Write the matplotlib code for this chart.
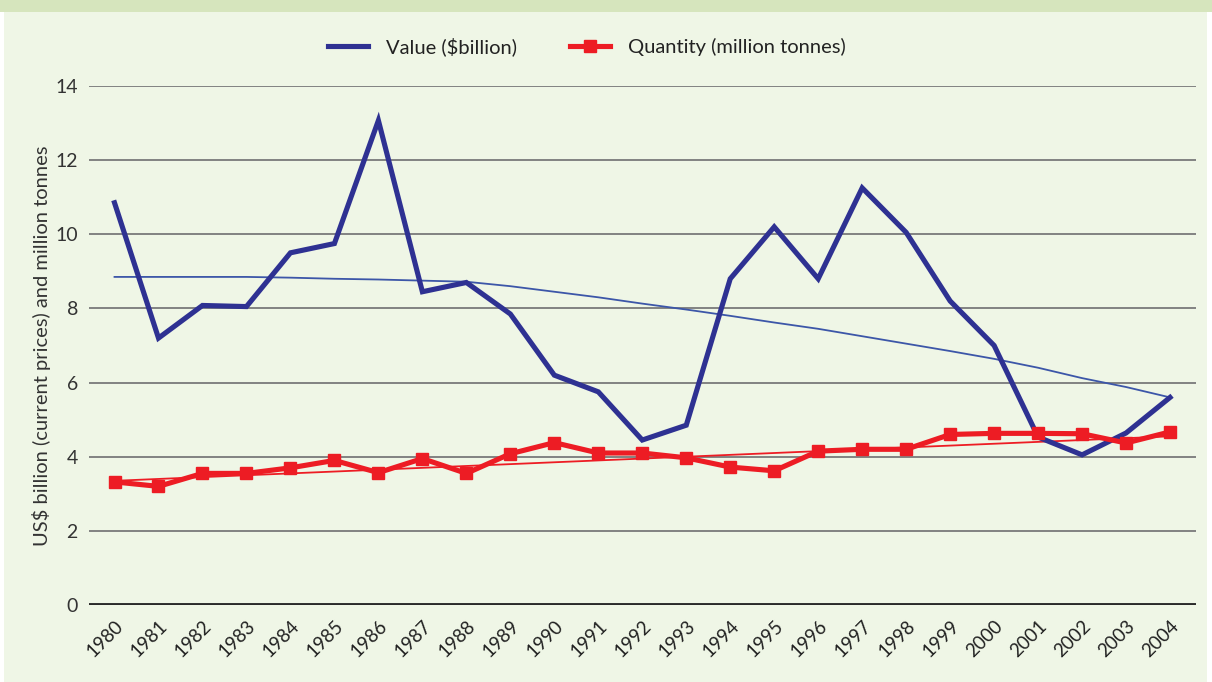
import matplotlib
matplotlib.use('Agg')
import matplotlib.pyplot as plt
from matplotlib.patches import Rectangle

plt.rcParams['font.family'] = ['Lato', 'DejaVu Sans']

# data
years = list(range(1980, 2005))
value_bn = [10.85, 7.2, 8.08, 8.05, 9.5, 9.75, 13.07, 8.45, 8.7, 7.85,
            6.2, 5.75, 4.45, 4.85, 8.8, 10.2, 8.8, 11.25, 10.05, 8.2,
            7.0, 4.53, 4.05, 4.64, 5.6]
quantity_mt = [3.32, 3.2, 3.55, 3.55, 3.7, 3.9, 3.57, 3.95, 3.55, 4.08,
               4.38, 4.1, 4.1, 3.97, 3.72, 3.62, 4.15, 4.2, 4.2, 4.6,
               4.63, 4.63, 4.62, 4.37, 4.67]
# thin trend lines as drawn in the chart
value_trend = [8.85, 8.85, 8.85, 8.85, 8.83, 8.8, 8.78, 8.75, 8.72, 8.6,
               8.45, 8.3, 8.13, 7.97, 7.8, 7.62, 7.45, 7.25, 7.05, 6.85,
               6.64, 6.4, 6.12, 5.88, 5.6]
quantity_trend = [3.35, 3.4, 3.45, 3.5, 3.55, 3.6, 3.65, 3.7, 3.75, 3.8,
                  3.85, 3.9, 3.95, 4.0, 4.05, 4.1, 4.15, 4.2, 4.25, 4.3,
                  4.35, 4.4, 4.45, 4.5, 4.55]

blue = '#2e3192'
red = '#ed1c24'

fig = plt.figure(figsize=(12.12, 6.82), dpi=100)
fig.patch.set_facecolor('white')
# panel background and top band
fig.patches.append(Rectangle((4 / 1212, 0), 1203 / 1212, 1, transform=fig.transFigure,
                             facecolor='#eff6e6', edgecolor='none', zorder=-2))
fig.patches.append(Rectangle((0, 1 - 12 / 682), 1, 12 / 682, transform=fig.transFigure,
                             facecolor='#d6e5bd', edgecolor='none', zorder=-1))

ax = fig.add_axes([89 / 1212, 1 - 605 / 682, (1196 - 89) / 1212, (605 - 86) / 682])
ax.set_facecolor('none')

ax.plot(years, value_trend, color='#3c56a8', lw=1.3, zorder=3)
ax.plot(years, quantity_trend, color=red, lw=1.3, zorder=3)
ax.plot(years, value_bn, color=blue, lw=3.7, zorder=4, label='Value ($billion)',
        solid_joinstyle='miter')
ax.plot(years, quantity_mt, color=red, lw=3.7, marker='s', ms=8.5, zorder=5,
        label='Quantity (million tonnes)')

ax.set_ylim(0, 14)
ax.set_xlim(1980 - 0.58, 2004 + 0.59)
ax.set_yticks(range(0, 15, 2))
ax.set_xticks(years)
ax.set_xticklabels([str(y) for y in years], rotation=45, ha='right',
                   rotation_mode='anchor', fontsize=13.5, color='#222222')
ax.tick_params(axis='y', length=0, labelsize=14, labelcolor='#333333', pad=8)
ax.tick_params(axis='x', length=0, pad=9)
for v in range(2, 15, 2):
    ax.axhline(v, color='#828282', lw=1.4, zorder=1)
ax.axhline(0, color='#2a2a2a', lw=2.8, zorder=2)
for s in ax.spines.values():
    s.set_visible(False)

ax.set_ylabel('US$ billion (current prices) and million tonnes', fontsize=14.5,
              color='#333333')
ax.yaxis.set_label_coords(-38 / 1107, 0.5)

fig.legend(loc='center', bbox_to_anchor=(587 / 1212, 1 - 47 / 682), ncol=2,
           frameon=False, fontsize=14.5, handlelength=2.0, columnspacing=2.6,
           handletextpad=0.9, labelcolor='#222222')

fig.savefig('out.png', dpi=100, facecolor=fig.get_facecolor())
